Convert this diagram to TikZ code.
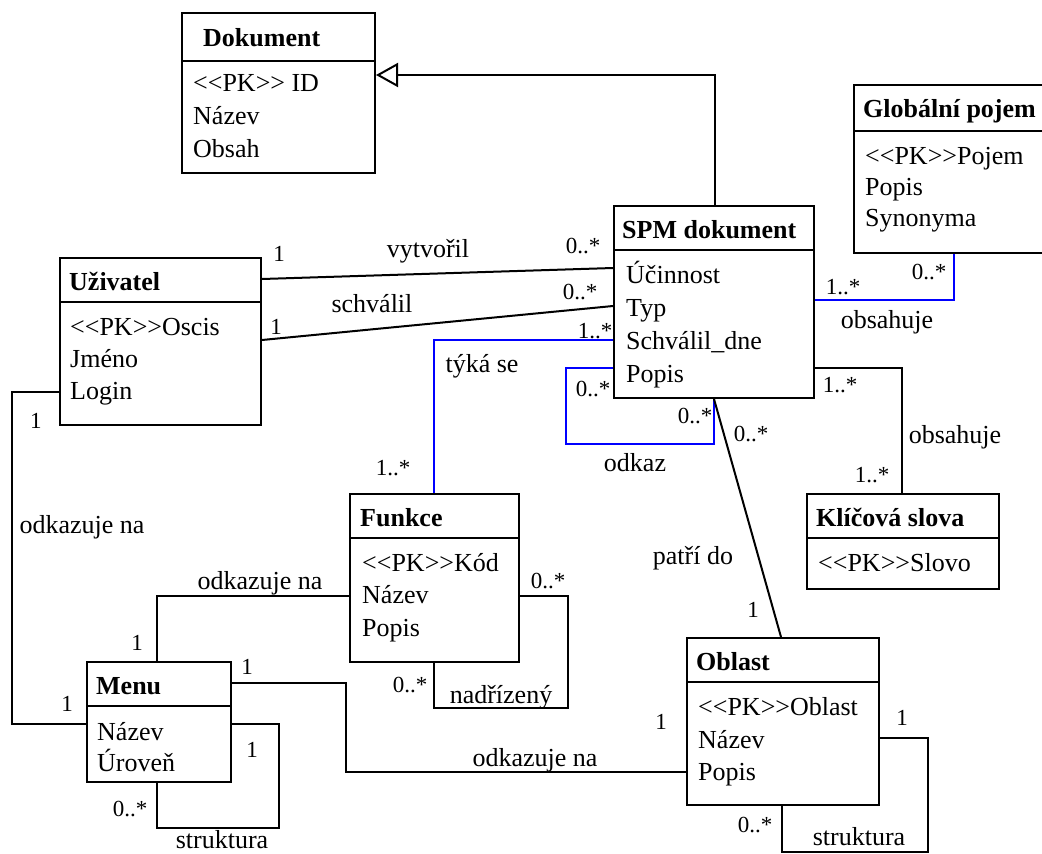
\documentclass[tikz,border=0pt]{standalone}
\usepackage{fontspec}
\setmainfont{Liberation Serif}
\usetikzlibrary{arrows.meta,calc}
\tikzset{
  ln/.style={line width=2pt, draw=black},
  bl/.style={line width=2pt, draw=blue},
  cls/.style={draw=black, line width=2pt, rectangle, inner sep=0pt, fill=white},
  ttl/.style={anchor=base west, inner sep=0pt, font=\fontsize{26}{30}\selectfont\bfseries},
  att/.style={anchor=base west, inner sep=0pt, font=\fontsize{26}{30}\selectfont},
  lab/.style={anchor=center, inner sep=0pt, font=\fontsize{26}{30}\selectfont},
  mul/.style={anchor=center, inner sep=0pt, font=\fontsize{23}{27}\selectfont},
}
\newcommand{\umlbox}[6]{%
  \node[cls, minimum width=#4pt, minimum height=#5pt, anchor=north west] (#1) at (#2,#3) {};
  \draw[ln] ([yshift=-#6pt]#1.north west) -- ([yshift=-#6pt]#1.north east);
}
\newcommand{\PK}{\char"3C\kern0pt\char"3C\kern0pt PK\char"3E\kern0pt\char"3E\kern0pt}
\begin{document}
\begin{tikzpicture}[x=1pt, y=-1pt]
\useasboundingbox (0,0) rectangle (1042,854);
\clip (0,0) rectangle (1042,854);
\fill[white] (0,0) rectangle (1042,854);

% classes
\umlbox{dok}{181}{12}{193}{160}{49}
\umlbox{glob}{853}{84}{215}{168}{47}
\umlbox{spm}{613}{205}{200}{192}{45}
\umlbox{uziv}{59}{257}{201}{167}{45}
\umlbox{funk}{349}{493}{169}{168}{45}
\umlbox{klic}{806}{493}{192}{95}{45}
\umlbox{menu}{86}{661}{144}{120}{45}
\umlbox{obl}{686}{637}{192}{167}{45}

% texts
\node[ttl] (dokT) at (203,46) {Dokument};
\node[att] (dokA) at (193,91) {\PK{} ID};
\node[att] (dokB) at (193,124) {Název};
\node[att] (dokC) at (193,157) {Obsah};

\node[ttl] (globT) at (863,117) {Globální pojem};
\node[att] (globA) at (865,164) {\PK Pojem};
\node[att] (globB) at (865,195) {Popis};
\node[att] (globC) at (865,226) {Synonyma};

\node[ttl] (spmT) at (622,238) {SPM dokument};
\node[att] (spmA) at (626,283) {Účinnost};
\node[att] (spmB) at (626,316) {Typ};
\node[att] (spmC) at (626,349) {Schválil\_dne};
\node[att] (spmD) at (626,382) {Popis};

\node[ttl] (uzT) at (69,290) {Uživatel};
\node[att] (uzA) at (70,335) {\PK Oscis};
\node[att] (uzB) at (70,367) {Jméno};
\node[att] (uzC) at (70,399) {Login};

\node[ttl] (fuT) at (360,526) {Funkce};
\node[att] (fuA) at (362,571) {\PK Kód};
\node[att] (fuB) at (362,603) {Název};
\node[att] (fuC) at (362,636) {Popis};

\node[ttl] (klT) at (816,526) {Klíčová slova};
\node[att] (klA) at (818,571) {\PK Slovo};

\node[ttl] (meT) at (96,694) {Menu};
\node[att] (meA) at (97,740) {Název};
\node[att] (meB) at (97,771) {Úroveň};

\node[ttl] (obT) at (696,670) {Oblast};
\node[att] (obA) at (698,715) {\PK Oblast};
\node[att] (obB) at (698,748) {Název};
\node[att] (obC) at (698,780) {Popis};

% generalization
\draw[ln, -{Triangle[open, length=22pt, width=24pt, line width=2pt]}]
  ([xshift=1pt]spm.north) |- (dok.north east |- 0,75);

% associations
\draw[ln] ($(uziv.north east)+(0,22)$) -- ($(spm.north west)+(0,63)$);
\draw[ln] ($(uziv.north east)+(0,83)$) -- ($(spm.north west)+(0,101)$);
\draw[bl] ($(spm.north west)+(0,135)$) -| ($(funk.north west)+(85,0)$);
\draw[bl] ($(spm.north west)+(0,163)$) -- ++(-47,0) |- (714,444) -- ($(spm.south west)+(101,0)$);
\draw[ln] ($(spm.south west)+(101,0)$) -- ($(obl.north west)+(95,0)$);
\draw[bl] ($(spm.north east)+(0,95)$) -| ($(glob.south west)+(101,0)$);
\draw[ln] ($(spm.north east)+(0,163)$) -| ($(klic.north west)+(96,0)$);
\draw[ln] ($(uziv.north west)+(0,135)$) -- ++(-47,0) |- ($(menu.north west)+(0,63)$);
\draw[ln] ($(funk.north west)+(0,103)$) -| ($(menu.north west)+(71,0)$);
\draw[ln] ($(funk.north east)+(0,103)$) -- ++(48,0) |- (434,708) -- ($(funk.south west)+(85,0)$);
\draw[ln] ($(menu.north east)+(0,22)$) -- ++(114,0) |- ($(obl.north west)+(0,135)$);
\draw[ln] ($(menu.north east)+(0,63)$) -- ++(47,0) |- (157,828) -- ($(menu.south west)+(71,0)$);
\draw[ln] ($(obl.north east)+(0,101)$) -- ++(48,0) |- (782,852) -- ($(obl.south west)+(96,0)$);

% labels
\node[mul] (m1) at (279,254) {1};
\node[lab] (l1) at (428,251) {vytvořil};
\node[mul] (m2) at (583,246) {0..*};
\node[mul] (m3) at (276,327) {1};
\node[lab] (l2) at (372,304) {schválil};
\node[mul] (m4) at (580,292) {0..*};
\node[mul] (m5) at (595,331) {1..*};
\node[lab] (l3) at (482,366) {týká se};
\node[mul] (m6) at (393,468) {1..*};
\node[mul] (m7) at (593,389) {0..*};
\node[mul] (m8) at (695,416) {0..*};
\node[lab] (l4) at (635,463) {odkaz};
\node[mul] (m9) at (751,434) {0..*};
\node[lab] (l5) at (693,558) {patří do};
\node[mul] (m10) at (753,610) {1};
\node[mul] (m11) at (843,287) {1..*};
\node[mul] (m12) at (929,272) {0..*};
\node[lab] (l6) at (887,322) {obsahuje};
\node[mul] (m13) at (840,385) {1..*};
\node[lab] (l7) at (955,437) {obsahuje};
\node[mul] (m14) at (872,475) {1..*};
\node[mul] (m15) at (36,421) {1};
\node[lab] (l8) at (82,527) {odkazuje na};
\node[mul] (m16) at (67,704) {1};
\node[lab] (l9) at (260,583) {odkazuje na};
\node[mul] (m17) at (137,643) {1};
\node[mul] (m18) at (548,581) {0..*};
\node[mul] (m19) at (410,685) {0..*};
\node[lab] (l10) at (501,697) {nadřízený};
\node[mul] (m20) at (247,667) {1};
\node[lab] (l11) at (535,760) {odkazuje na};
\node[mul] (m21) at (661,722) {1};
\node[mul] (m22) at (252,750) {1};
\node[mul] (m23) at (130,809) {0..*};
\node[lab] (l12) at (222,840) {struktura};
\node[mul] (m24) at (902,718) {1};
\node[mul] (m25) at (755,825) {0..*};
\node[lab] (l13) at (859,837) {struktura};
\end{tikzpicture}
\end{document}
